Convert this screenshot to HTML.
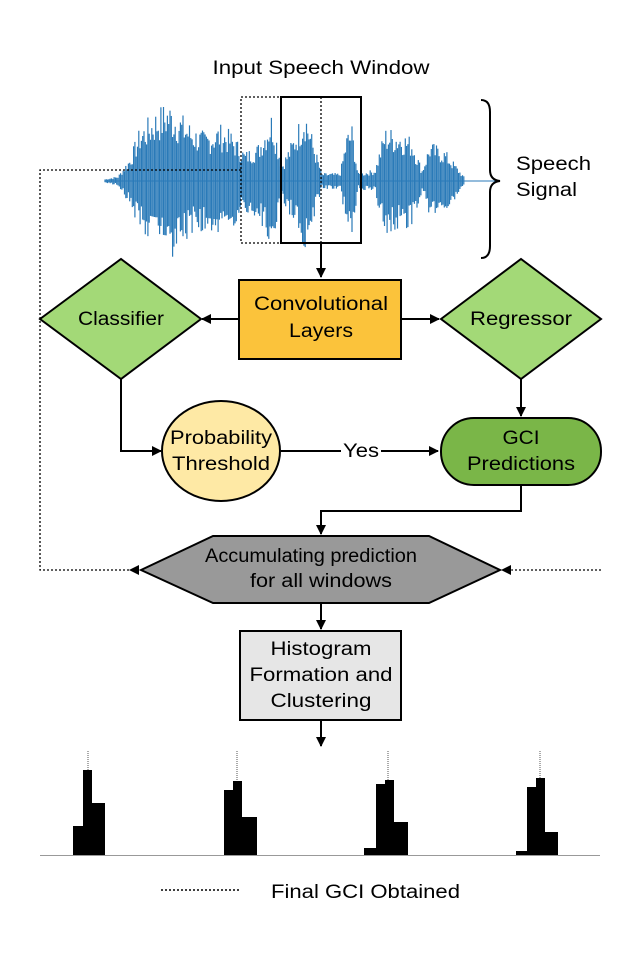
<!DOCTYPE html>
<html><head><meta charset="utf-8"><style>
html,body{margin:0;padding:0;background:#fff;}
svg{display:block;font-family:"Liberation Sans",sans-serif;}
text{font-size:19px;}
</style></head><body>
<svg id="s" width="641" height="977" viewBox="0 0 641 977" xmlns="http://www.w3.org/2000/svg">
<defs>
<marker id="a" markerWidth="10" markerHeight="10" refX="9" refY="5" orient="auto" markerUnits="userSpaceOnUse">
<path d="M0,0 L10,5 L0,10 Z" fill="#000"/></marker>
</defs>
<text x="321" y="74" text-anchor="middle" textLength="217" lengthAdjust="spacingAndGlyphs">Input Speech Window</text>
<line x1="105" y1="181" x2="500" y2="181" stroke="#2a7ab8" stroke-width="1"/>
<g id="wave" stroke="#2a7ab8" stroke-width="1.2"></g>
<rect x="241" y="97" width="40" height="146" fill="none" stroke="#000" stroke-width="1.3" stroke-dasharray="2,2"/>
<rect x="281" y="97" width="80" height="146" fill="none" stroke="#000" stroke-width="2"/>
<line x1="321" y1="97" x2="321" y2="243" stroke="#000" stroke-width="1.3" stroke-dasharray="2,2"/>
<path d="M481,100 Q490,100 490,112 L490,170 Q490,180 500,181 Q490,182 490,192 L490,246 Q490,258 481,258" fill="none" stroke="#000" stroke-width="2"/>
<text x="516" y="170" textLength="75" lengthAdjust="spacingAndGlyphs">Speech</text>
<text x="516" y="196" textLength="61" lengthAdjust="spacingAndGlyphs">Signal</text>
<path d="M241,170 L40,170 L40,570 L138,570" fill="none" stroke="#000" stroke-width="1.3" stroke-dasharray="2,2"/>
<path d="M138,570 L130,570" stroke="#000" marker-end="url(#a)"/>
<line x1="601" y1="570" x2="512" y2="570" stroke="#000" stroke-width="1.3" stroke-dasharray="2,2"/>
<path d="M512,570 L502,570" stroke="#000" marker-end="url(#a)"/>
<line x1="321" y1="243" x2="321" y2="277" stroke="#000" stroke-width="2" marker-end="url(#a)"/>
<line x1="238" y1="319" x2="202" y2="319" stroke="#000" stroke-width="2" marker-end="url(#a)"/>
<line x1="401" y1="319" x2="439" y2="319" stroke="#000" stroke-width="2" marker-end="url(#a)"/>
<line x1="521" y1="378" x2="521" y2="416" stroke="#000" stroke-width="2" marker-end="url(#a)"/>
<path d="M121,378 L121,451 L161,451" fill="none" stroke="#000" stroke-width="2" marker-end="url(#a)"/>
<line x1="281" y1="451" x2="438" y2="451" stroke="#000" stroke-width="2" marker-end="url(#a)"/>
<rect x="341" y="440" width="40" height="20" fill="#fff"/>
<text x="343" y="457" textLength="36" lengthAdjust="spacingAndGlyphs">Yes</text>
<path d="M521,485 L521,511 L321,511 L321,534" fill="none" stroke="#000" stroke-width="2" marker-end="url(#a)"/>
<line x1="321" y1="604" x2="321" y2="629" stroke="#000" stroke-width="2" marker-end="url(#a)"/>
<line x1="321" y1="720" x2="321" y2="746" stroke="#000" stroke-width="2" marker-end="url(#a)"/>
<polygon points="40,319 121,259 201,319 121,379" fill="#a3d977" stroke="#000" stroke-width="2"/>
<text x="121" y="325" text-anchor="middle" textLength="86" lengthAdjust="spacingAndGlyphs">Classifier</text>
<rect x="239" y="280" width="162" height="79" fill="#fbc33b" stroke="#000" stroke-width="2"/>
<text x="321" y="310" text-anchor="middle" textLength="134" lengthAdjust="spacingAndGlyphs">Convolutional</text>
<text x="321" y="337" text-anchor="middle" textLength="64" lengthAdjust="spacingAndGlyphs">Layers</text>
<polygon points="441,319 521,259 601,319 521,379" fill="#a3d977" stroke="#000" stroke-width="2"/>
<text x="521" y="325" text-anchor="middle" textLength="102" lengthAdjust="spacingAndGlyphs">Regressor</text>
<ellipse cx="221" cy="451" rx="59" ry="50" fill="#fee9a5" stroke="#000" stroke-width="2"/>
<text x="221" y="444" text-anchor="middle" textLength="102" lengthAdjust="spacingAndGlyphs">Probability</text>
<text x="221" y="470" text-anchor="middle" textLength="98" lengthAdjust="spacingAndGlyphs">Threshold</text>
<rect x="441" y="418" width="160" height="67" rx="33" fill="#7ab648" stroke="#000" stroke-width="2"/>
<text x="521" y="444" text-anchor="middle" textLength="37" lengthAdjust="spacingAndGlyphs">GCI</text>
<text x="521" y="470" text-anchor="middle" textLength="108" lengthAdjust="spacingAndGlyphs">Predictions</text>
<polygon points="141,570 213,536 429,536 500,570 429,603 213,603" fill="#999" stroke="#000" stroke-width="2"/>
<text x="311" y="562" text-anchor="middle" textLength="212" lengthAdjust="spacingAndGlyphs">Accumulating prediction</text>
<text x="321" y="587" text-anchor="middle" textLength="142" lengthAdjust="spacingAndGlyphs">for all windows</text>
<rect x="240" y="631" width="161" height="89" fill="#e6e6e6" stroke="#000" stroke-width="2"/>
<text x="321" y="655" text-anchor="middle" textLength="101" lengthAdjust="spacingAndGlyphs">Histogram</text>
<text x="321" y="681" text-anchor="middle" textLength="143" lengthAdjust="spacingAndGlyphs">Formation and</text>
<text x="321" y="707" text-anchor="middle" textLength="101" lengthAdjust="spacingAndGlyphs">Clustering</text>
<line x1="40" y1="855.5" x2="600" y2="855.5" stroke="#999" stroke-width="1"/>
<g fill="#000">
<rect x="73" y="826" width="10" height="29"/><rect x="83" y="770" width="9" height="85"/><rect x="92" y="803" width="13" height="52"/>
<rect x="224" y="790" width="9" height="65"/><rect x="233" y="781" width="9" height="74"/><rect x="242" y="817" width="15" height="38"/>
<rect x="364" y="848" width="12" height="7"/><rect x="376" y="784" width="9" height="71"/><rect x="385" y="780" width="9" height="75"/><rect x="394" y="822" width="14" height="33"/>
<rect x="516" y="851" width="11" height="4"/><rect x="527" y="787" width="9" height="68"/><rect x="536" y="778" width="9" height="77"/><rect x="545" y="832" width="13" height="23"/>
</g>
<g stroke="#555" stroke-width="1" stroke-dasharray="1,1">
<line x1="88" y1="751" x2="88" y2="770"/><line x1="237" y1="751" x2="237" y2="781"/>
<line x1="388" y1="751" x2="388" y2="780"/><line x1="540" y1="751" x2="540" y2="778"/>
</g>
<line x1="161" y1="890" x2="241" y2="890" stroke="#000" stroke-width="1.5" stroke-dasharray="2,2"/>
<text x="271" y="898" textLength="189" lengthAdjust="spacingAndGlyphs">Final GCI Obtained</text>
</svg>
<script>
(function(){
var g=document.getElementById('wave');
var env=[[105,2],[118,5],[130,25],[140,55],[155,72],[168,82],[180,70],[195,55],[205,50],[220,58],[232,50],[245,30],[258,38],[272,72],[282,18],[292,42],[305,78],[315,35],[322,8],[340,8],[347,50],[352,58],[358,8],[375,12],[385,55],[400,52],[412,45],[422,12],[430,40],[445,32],[455,18],[465,3]];
function A(x){for(var i=0;i<env.length-1;i++){if(x>=env[i][0]&&x<=env[i+1][0]){var t=(x-env[i][0])/(env[i+1][0]-env[i][0]);return env[i][1]*(1-t)+env[i+1][1]*t;}}return 0;}
var s=7,out='';
for(var x=105;x<=468;x+=1.3){s=(s*9301+49297)%233280;var r=s/233280;var a=A(x)*(0.5+0.5*r);var b=A(x)*(0.45+0.55*((s*7)%100)/100);
out+='<line x1="'+x+'" y1="'+(181-a)+'" x2="'+x+'" y2="'+(181+b)+'"/>';}
g.innerHTML=out;
})();
</script>
</body></html>
